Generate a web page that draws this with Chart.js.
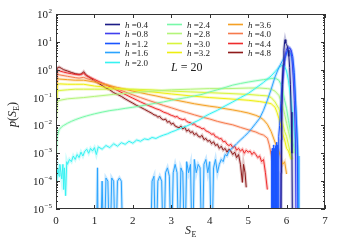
<!DOCTYPE html>
<html>
<head>
<meta charset="utf-8">
<script src="https://cdn.jsdelivr.net/npm/chart.js@4.4.1/dist/chart.umd.min.js"></script>
<style>
  html, body { margin: 0; padding: 0; background: #fff; }
</style>
</head>
<body>
<canvas id="chart" width="338" height="250"></canvas>
<script>
// h values shown in the legend
const hLabels = ['0.4', '0.8', '1.2', '1.6', '2.0', '2.4', '2.8', '3.0', '3.2', '3.6', '4.0', '4.4', '4.8'];

// S_E positions and p(S_E) values per h (0 = empty bin)
const x04 = [5.85, 5.86, 5.87, 5.89, 5.91, 5.93, 5.95, 5.96, 5.98, 6.0, 6.02, 6.04, 6.06, 6.08, 6.1, 6.12, 6.14, 6.16];
const p04 = [0, 0.0002, 0.02, 0.3, 1.5, 5, 10, 12, 9, 8, 7, 5, 3, 1.2, 0.3, 0.03, 0.001, 0];

const x08 = [5.84, 5.86, 5.88, 5.9, 5.93, 5.96, 5.99, 6.02, 6.05, 6.08, 6.11, 6.14, 6.17, 6.2, 6.23, 6.25];
const p08 = [0, 0.003, 0.05, 0.3, 1.2, 3, 5, 6, 6.5, 6, 5, 2.5, 0.6, 0.08, 0.003, 0];

const x12 = [5.6, 5.61, 5.62, 5.63, 5.64, 5.65, 5.66, 5.67, 5.68, 5.69, 5.7, 5.71, 5.72, 5.73, 5.74, 5.75, 5.76, 5.77, 5.78, 5.79, 5.8,
  5.82, 5.85, 5.88, 5.92, 5.96, 6.0, 6.04, 6.08, 6.12, 6.16, 6.2, 6.24, 6.28, 6.3];
const p12 = [0, 0.0012, 0, 0.0015, 0, 0.0012, 0, 0.002, 0, 0.0015, 0, 0.0018, 0, 0.002, 0, 0.0025, 0, 0.002, 0, 0.003, 0.004,
  0.01, 0.06, 0.3, 1, 2.5, 4, 5.5, 6, 5, 3, 0.8, 0.05, 0.002, 0];

const x16 = [1.05, 1.08, 1.1, 1.15, 1.2, 1.25, 1.3, 1.35, 1.4, 1.45, 1.5, 1.55, 1.6, 1.65, 1.7, 1.75,
  2.45, 2.5, 2.55, 2.6, 2.65, 2.7, 2.75, 2.8, 2.85, 2.9, 2.95, 3.0, 3.05, 3.1, 3.15, 3.2, 3.25, 3.3, 3.35, 3.4,
  3.45, 3.5, 3.55, 3.6, 3.65, 3.7, 3.75, 3.8, 3.85, 3.9, 3.95, 4.0, 4.05, 4.1, 4.15, 4.2, 4.25, 4.3, 4.35, 4.4,
  4.45, 4.5, 4.6, 4.7, 4.8, 4.9, 5.0, 5.1, 5.2, 5.3, 5.4, 5.5, 5.6, 5.7, 5.8, 5.9, 5.95, 6.0, 6.05, 6.1, 6.15,
  6.2, 6.25, 6.3, 6.32];
const p16 = [0, 0.0003, 0, 0, 0.0001, 0, 0.00013, 0.0001, 0, 0.00013, 0.0001, 0, 0.0001, 0.00013, 0.0001, 0,
  0, 0.0001, 0.00015, 0, 0.0001, 0.00015, 0.0001, 0, 0.0002, 0.0003, 0.00015, 0, 0.0002, 0.0004, 0.0002, 0, 0.0003, 0.0002, 0, 0.0005,
  0.0002, 0.0004, 0, 0.0006, 0.0002, 0.0004, 0.0003, 0, 0.0004, 0.0006, 0.0002, 0.0005, 0, 0.0003, 0.0006, 0.0002, 0.0004, 0.0006, 0.0005, 0.0009,
  0.0008, 0.0012, 0.0016, 0.0022, 0.003, 0.004, 0.0055, 0.008, 0.012, 0.018, 0.035, 0.08, 0.2, 0.55, 1.2, 2.2, 3.0, 4.0, 4.5, 4.0, 2.0,
  0.4, 0.02, 0.0008, 0];

const x20 = [0.02, 0.05, 0.08, 0.1, 0.13, 0.15, 0.18, 0.2, 0.22, 0.25, 0.28, 0.3, 0.35, 0.4, 0.45, 0.5, 0.55, 0.6, 0.65, 0.7,
  0.75, 0.8, 0.85, 0.9, 0.95, 1.0, 1.05, 1.1, 1.2, 1.3, 1.4, 1.5, 1.6, 1.7, 1.8, 1.9, 2.0, 2.1, 2.2, 2.3, 2.4, 2.5,
  2.6, 2.7, 2.8, 2.9, 3.0, 3.1, 3.2, 3.3, 3.4, 3.5, 3.6, 3.7, 3.8, 3.9, 4.0, 4.2, 4.4, 4.6, 4.8, 5.0, 5.2, 5.4,
  5.6, 5.7, 5.8, 5.9, 5.95, 6.0, 6.05, 6.1, 6.15, 6.2, 6.25];
const p20 = [0.0001, 0.0003, 0.00015, 0.0004, 0.0002, 0.00012, 0.0004, 0.00005, 0.0003, 0.00003, 0.0005, 0.0004, 0.0006, 0.0005, 0.0008, 0.0006, 0.0009, 0.0007, 0.0011, 0.0008,
  0.0012, 0.0014, 0.001, 0.0015, 0.0012, 0.0016, 0.0009, 0.0017, 0.0014, 0.0019, 0.0016, 0.0022, 0.0018, 0.0024, 0.0021, 0.0027, 0.0023, 0.003, 0.0027, 0.0033, 0.0031, 0.0037,
  0.0034, 0.004, 0.0045, 0.005, 0.0058, 0.0065, 0.0075, 0.0085, 0.0095, 0.011, 0.013, 0.015, 0.018, 0.022, 0.026, 0.035, 0.05, 0.07, 0.1, 0.14, 0.22, 0.35,
  0.6, 0.85, 1.2, 1.5, 1.3, 0.9, 0.4, 0.12, 0.03, 0.006, 0.001];

const x24 = [0.01, 0.03, 0.08, 0.15, 0.2, 0.3, 0.4, 0.5, 0.6, 0.7, 0.8, 0.9, 1.0, 1.2, 1.4, 1.6, 1.8, 2.0, 2.2, 2.4, 2.6, 2.8,
  3.0, 3.2, 3.4, 3.6, 3.8, 4.0, 4.2, 4.4, 4.6, 4.8, 5.0, 5.2, 5.4, 5.6, 5.7, 5.8, 5.85, 5.9, 5.95, 6.0, 6.05, 6.1, 6.15, 6.2, 6.25];
const p24 = [0.001, 0.004, 0.007, 0.009, 0.01, 0.012, 0.014, 0.016, 0.018, 0.02, 0.022, 0.024, 0.026, 0.03, 0.034, 0.037, 0.041, 0.045, 0.05, 0.056, 0.063, 0.07,
  0.08, 0.09, 0.1, 0.115, 0.13, 0.16, 0.19, 0.23, 0.28, 0.32, 0.36, 0.4, 0.44, 0.48, 0.5, 0.42, 0.3, 0.18, 0.08, 0.04, 0.015, 0.006, 0.003, 0.0015, 0.0008];

const x28 = [0.01, 0.03, 0.1, 0.3, 0.5, 0.72, 1.0, 1.5, 2.0, 2.5, 3.0, 3.5, 4.0, 4.5, 5.0, 5.3, 5.5, 5.6, 5.7, 5.8, 5.9, 5.95, 6.0, 6.05, 6.1, 6.15, 6.18];
const p28 = [0.015, 0.07, 0.08, 0.09, 0.095, 0.1, 0.11, 0.13, 0.15, 0.17, 0.19, 0.2, 0.21, 0.21, 0.22, 0.22, 0.21, 0.2, 0.17, 0.12, 0.05, 0.025, 0.012, 0.006, 0.003, 0.0015, 0.001];

const x30 = [0.01, 0.03, 0.1, 0.3, 0.5, 0.72, 1.0, 1.5, 2.0, 2.5, 3.0, 3.5, 4.0, 4.5, 5.0, 5.3, 5.5, 5.6, 5.7, 5.8, 5.85, 5.9, 5.95, 6.0, 6.05, 6.1, 6.15];
const p30 = [0.03, 0.17, 0.18, 0.19, 0.2, 0.2, 0.2, 0.2, 0.2, 0.19, 0.17, 0.16, 0.15, 0.14, 0.13, 0.12, 0.115, 0.1, 0.07, 0.04, 0.025, 0.012, 0.006, 0.004, 0.002, 0.001, 0.0006];

const x32 = [0.01, 0.03, 0.1, 0.3, 0.5, 0.72, 1.0, 1.5, 2.0, 2.5, 3.0, 3.5, 4.0, 4.5, 5.0, 5.3, 5.5, 5.6, 5.7, 5.75, 5.8, 5.85, 5.9, 5.95, 6.0, 6.05, 6.1, 6.13];
const p32 = [0.05, 0.3, 0.31, 0.3, 0.3, 0.3, 0.26, 0.22, 0.19, 0.16, 0.135, 0.115, 0.1, 0.09, 0.08, 0.072, 0.065, 0.06, 0.045, 0.03, 0.018, 0.01, 0.005, 0.003, 0.0015, 0.0012, 0.0007, 0.0006];

const x36 = [0.01, 0.03, 0.1, 0.3, 0.5, 0.72, 1.0, 1.2, 1.4, 1.6, 1.8, 2.0, 2.2, 2.4, 2.6, 2.8, 3.0, 3.2, 3.4, 3.6, 3.8, 4.0, 4.2,
  4.4, 4.6, 4.8, 5.0, 5.2, 5.3, 5.4, 5.5, 5.6, 5.7, 5.8, 5.85, 5.9, 5.95, 6.0];
const p36 = [0.1, 0.48, 0.46, 0.44, 0.42, 0.42, 0.36, 0.31, 0.27, 0.23, 0.2, 0.17, 0.15, 0.13, 0.115, 0.1, 0.088, 0.077, 0.068, 0.06, 0.054, 0.049, 0.045,
  0.04, 0.036, 0.032, 0.028, 0.023, 0.02, 0.016, 0.011, 0.006, 0.0025, 0.0012, 0.0007, 0.0004, 0.0005, 0.00018];

const x40 = [0.01, 0.03, 0.1, 0.3, 0.5, 0.6, 0.72, 0.8, 1.0, 1.2, 1.4, 1.6, 1.8, 2.0, 2.2, 2.4, 2.6, 2.8, 3.0, 3.2, 3.4, 3.6,
  3.8, 4.0, 4.2, 4.4, 4.6, 4.8, 5.0, 5.2, 5.3, 5.4, 5.5, 5.55, 5.6, 5.65];
const p40 = [0.2, 0.7, 0.65, 0.58, 0.52, 0.5, 0.53, 0.48, 0.4, 0.32, 0.26, 0.2, 0.16, 0.125, 0.1, 0.08, 0.065, 0.052, 0.043, 0.035, 0.029, 0.024,
  0.02, 0.017, 0.014, 0.012, 0.0105, 0.0085, 0.007, 0.0058, 0.005, 0.0045, 0.0035, 0.002, 0.0009, 0.0004];

const x44 = [0.01, 0.03, 0.1, 0.2, 0.3, 0.4, 0.5, 0.6, 0.66, 0.72, 0.8, 0.9, 1.0, 1.2, 1.4, 1.6, 1.8, 2.0, 2.2, 2.4,
  2.5, 2.6, 2.7, 2.8, 2.9, 3.0, 3.05, 3.1, 3.15, 3.2, 3.25, 3.3, 3.35, 3.4, 3.45, 3.5, 3.55, 3.6, 3.65, 3.7, 3.75, 3.8,
  3.85, 3.9, 3.95, 4.0, 4.05, 4.1, 4.15, 4.2, 4.25, 4.3, 4.35, 4.4, 4.45, 4.5, 4.55, 4.6, 4.65, 4.7, 4.75, 4.8, 4.85,
  4.9, 4.95, 5.0, 5.05, 5.1, 5.15, 5.2, 5.25, 5.3, 5.35, 5.4, 5.45, 5.5];
const p44 = [0.3, 0.95, 0.9, 0.82, 0.76, 0.72, 0.68, 0.66, 0.68, 0.75, 0.6, 0.52, 0.45, 0.33, 0.25, 0.18, 0.13, 0.095, 0.07, 0.052,
  0.046, 0.04, 0.036, 0.03, 0.027, 0.023, 0.022, 0.02, 0.021, 0.018, 0.017, 0.016, 0.017, 0.014, 0.013, 0.0125, 0.011, 0.0115, 0.0095, 0.009, 0.0085, 0.0075,
  0.0078, 0.0064, 0.006, 0.0055, 0.0048, 0.005, 0.0039, 0.0038, 0.0033, 0.0034, 0.0026, 0.0027, 0.0021, 0.0019, 0.0021, 0.0016, 0.0018, 0.0013, 0.0015, 0.0012, 0.0014,
  0.001, 0.0013, 0.0011, 0.0012, 0.0009, 0.0011, 0.0009, 0.0007, 0.0008, 0.0005, 0.0006, 0.0002, 0.00005];

const x48 = [0.01, 0.03, 0.08, 0.15, 0.2, 0.3, 0.4, 0.5, 0.6, 0.66, 0.72, 0.78, 0.9, 1.0, 1.1, 1.2, 1.3, 1.4, 1.5, 1.6, 1.7, 1.8,
  1.9, 2.0, 2.1, 2.2, 2.3, 2.4, 2.5, 2.55, 2.6, 2.65, 2.7, 2.75, 2.8, 2.85, 2.9, 2.95, 3.0, 3.05, 3.1, 3.15, 3.2, 3.25,
  3.3, 3.35, 3.4, 3.45, 3.5, 3.55, 3.6, 3.65, 3.7, 3.75, 3.8, 3.85, 3.9, 3.95, 4.0, 4.05, 4.1, 4.15, 4.2, 4.25, 4.3,
  4.35, 4.4, 4.45, 4.5, 4.55, 4.6, 4.65, 4.7, 4.75, 4.8, 4.85, 4.88, 4.92, 4.95];
const p48 = [0.5, 1.15, 1.25, 1.1, 1.0, 0.9, 0.8, 0.72, 0.68, 0.7, 0.85, 0.65, 0.5, 0.4, 0.33, 0.27, 0.22, 0.19, 0.15, 0.13, 0.11, 0.09,
  0.075, 0.063, 0.052, 0.045, 0.038, 0.032, 0.027, 0.024, 0.023, 0.02, 0.021, 0.017, 0.016, 0.017, 0.013, 0.014, 0.011, 0.012, 0.0095, 0.0088, 0.0082, 0.0095,
  0.0075, 0.0085, 0.0062, 0.007, 0.0055, 0.006, 0.0046, 0.0052, 0.0041, 0.0038, 0.0044, 0.0031, 0.0034, 0.0027, 0.0029, 0.0022, 0.0026, 0.0019, 0.0021, 0.0015, 0.0018,
  0.0013, 0.0015, 0.0011, 0.0014, 0.0012, 0.0009, 0.0011, 0.0007, 0.0009, 0.0004, 0.00009, 0.0004, 0.0002, 0.00006];

const xTicks = [0, 1, 2, 3, 4, 5, 6, 7];
const yTicks = [1e-5, 1e-4, 1e-3, 1e-2, 1e-1, 1, 10, 100];
const yExps = ['\u22125', '\u22124', '\u22123', '\u22122', '\u22121', '0', '1', '2'];

const allX = [x04, x08, x12, x16, x20, x24, x28, x30, x32, x36, x40, x44, x48];
const allP = [p04, p08, p12, p16, p20, p24, p28, p30, p32, p36, p40, p44, p48];
const colors = ['#1c1c86', '#4040ee', '#1a55ff', '#2aa4ff', '#36f2f2', '#78f8a8', '#b4f47a', '#d8f43c',
  '#eeee10', '#f4a024', '#f67a4c', '#ee2c2c', '#8e1a1a'];

const SERIF = '"Liberation Serif", "DejaVu Serif", serif';

function points(i) {
  return allX[i].map((x, j) => ({ x: x, y: allP[i][j] > 0 ? allP[i][j] : 1e-7 }));
}

const datasets = hLabels.map((h, i) => ({
  label: 'h =' + h,
  data: points(i),
  borderColor: colors[i],
  borderWidth: 1,
  pointRadius: 0,
  tension: 0,
  fill: false
}));
// soft error-band halo under every curve
hLabels.forEach((h, i) => {
  datasets.push({
    label: 'band ' + h,
    data: points(i),
    borderColor: colors[i] + '40',
    borderWidth: 3,
    pointRadius: 0,
    tension: 0,
    fill: false
  });
});

function seg(ctx, x1, y1, x2, y2) {
  ctx.beginPath(); ctx.moveTo(x1, y1); ctx.lineTo(x2, y2); ctx.stroke();
}

const decor = {
  id: 'decor',
  afterDatasetsDraw(chart) {
    const { ctx, chartArea: a, scales } = chart;
    const sx = scales.x, sy = scales.y;
    ctx.save();
    ctx.strokeStyle = '#333';
    ctx.lineWidth = 1;
    ctx.strokeRect(a.left + 0.5, a.top + 0.5, a.right - a.left - 1, a.bottom - a.top - 1);

    xTicks.forEach(v => {
      const px = Math.round(sx.getPixelForValue(v)) + 0.5;
      seg(ctx, px, a.bottom, px, a.bottom - 4);
      seg(ctx, px, a.top, px, a.top + 4);
    });
    for (let d = -5; d < 2; d++) {
      for (let m = 1; m <= 9; m++) {
        const py = Math.round(sy.getPixelForValue(m * Math.pow(10, d))) + 0.5;
        const len = m === 1 ? 4 : 2;
        seg(ctx, a.left, py, a.left + len, py);
        seg(ctx, a.right, py, a.right - len, py);
      }
    }
    const pTop = Math.round(sy.getPixelForValue(100)) + 0.5;
    seg(ctx, a.left, pTop, a.left + 4, pTop);
    seg(ctx, a.right, pTop, a.right - 4, pTop);

    // y tick labels 10^n
    ctx.fillStyle = '#222';
    ctx.textBaseline = 'alphabetic';
    yTicks.forEach((v, i) => {
      const py = sy.getPixelForValue(v);
      ctx.font = '7px ' + SERIF;
      const ew = ctx.measureText(yExps[i]).width;
      const right = a.left - 4;
      ctx.textAlign = 'left';
      ctx.fillText(yExps[i], right - ew, py - 1);
      ctx.font = '11px ' + SERIF;
      ctx.textAlign = 'right';
      ctx.fillText('10', right - ew - 0.5, py + 4);
    });

    // legend, column-major
    ctx.textAlign = 'left';
    hLabels.forEach((h, i) => {
      const col = i < 5 ? 0 : (i < 9 ? 1 : 2);
      const row = i < 5 ? i : (i < 9 ? i - 5 : i - 9);
      const lx = [105, 167, 228][col];
      const ly = Math.round(24 + row * 9.4) + 0.5;
      ctx.strokeStyle = colors[i] + '50';
      ctx.lineWidth = 3;
      seg(ctx, lx, ly, lx + 15, ly);
      ctx.strokeStyle = colors[i];
      ctx.lineWidth = 1;
      seg(ctx, lx, ly, lx + 15, ly);
      ctx.fillStyle = '#222';
      ctx.font = 'italic 9px ' + SERIF;
      ctx.fillText('h', lx + 20, ly + 3);
      const hw = ctx.measureText('h ').width;
      ctx.font = '9px ' + SERIF;
      ctx.fillText('=' + h, lx + 20 + hw, ly + 3);
    });

    // L = 20
    ctx.font = 'italic 12px ' + SERIF;
    ctx.fillText('L', 171, 71);
    const lw = ctx.measureText('L').width;
    ctx.font = '12px ' + SERIF;
    ctx.fillText(' = 20', 171 + lw, 71);

    // x title S_E
    ctx.font = 'italic 12px ' + SERIF;
    ctx.fillText('S', 185, 234);
    ctx.font = '8px ' + SERIF;
    ctx.fillText('E', 191.5, 237);

    // y title p(S_E)
    ctx.save();
    ctx.translate(16, 112);
    ctx.rotate(-Math.PI / 2);
    ctx.textAlign = 'left';
    let cx = -15;
    ctx.font = 'italic 12px ' + SERIF;
    ctx.fillText('p', cx, 0); cx += ctx.measureText('p').width;
    ctx.font = '12px ' + SERIF;
    ctx.fillText('(', cx, 0); cx += ctx.measureText('(').width;
    ctx.font = 'italic 12px ' + SERIF;
    ctx.fillText('S', cx, 0); cx += ctx.measureText('S').width;
    ctx.font = '8px ' + SERIF;
    ctx.fillText('E', cx, 3); cx += ctx.measureText('E').width;
    ctx.font = '12px ' + SERIF;
    ctx.fillText(')', cx, 0);
    ctx.restore();

    ctx.restore();
  }
};

new Chart(document.getElementById('chart').getContext('2d'), {
  type: 'line',
  data: { datasets: datasets },
  options: {
    responsive: false,
    animation: false,
    devicePixelRatio: 1,
    layout: { padding: { top: 14, right: 13, left: 0, bottom: 0 } },
    plugins: { legend: { display: false }, tooltip: { enabled: false } },
    scales: {
      x: {
        type: 'linear',
        min: 0, max: 7,
        grid: { display: false },
        border: { display: false },
        afterBuildTicks: s => { s.ticks = xTicks.map(v => ({ value: v })); },
        ticks: { font: { family: SERIF, size: 11 }, color: '#222', padding: -2 },
        afterFit: s => { s.height = 41; }
      },
      y: {
        type: 'logarithmic',
        min: 1e-5, max: 100,
        grid: { display: false },
        border: { display: false },
        ticks: { display: false },
        afterFit: s => { s.width = 56; }
      }
    }
  },
  plugins: [decor]
});
</script>
</body>
</html>
